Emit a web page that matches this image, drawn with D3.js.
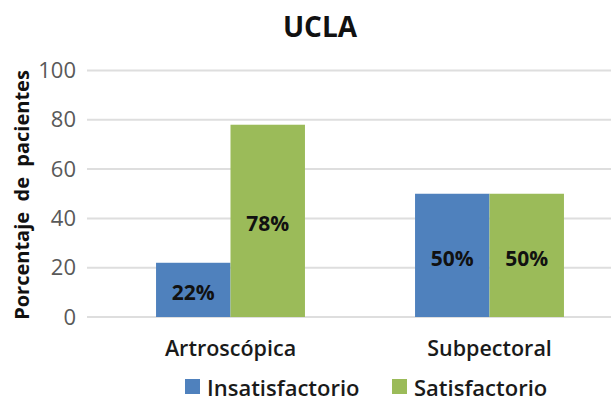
<!DOCTYPE html>
<html>
<head>
<meta charset="utf-8">
<script src="https://cdn.jsdelivr.net/npm/d3@7"></script>
<style>
  body { margin: 0; background: #fff; }
  svg { display: block; font-family: "Open Sans", sans-serif; }
</style>
</head>
<body>
<div id="chart"></div>
<script>
"use strict";

let categories = ["Artroscópica", "Subpectoral"];
let seriesNames = ["Insatisfactorio", "Satisfactorio"];
let insatisfactorio = [22, 50];
let satisfactorio = [78, 50];
let yTicks = [0, 20, 40, 60, 80, 100];

let colors = ["#4f81bd", "#9bbb59"];
let width = 611, height = 401;

let svg = d3.select("#chart").append("svg")
  .attr("width", width)
  .attr("height", height);

let y = d3.scaleLinear()
  .domain([0, 100])
  .range([317, 70.5]);

// groups of bars
let x0 = d3.scaleBand()
  .domain(categories)
  .range([101, 619])
  .paddingInner(0.425)
  .paddingOuter(0.2125);

let x1 = d3.scaleBand()
  .domain(seriesNames)
  .range([0, x0.bandwidth()]);

// gridlines
svg.append("g")
  .selectAll("line")
  .data(yTicks)
  .enter().append("line")
  .attr("x1", 87)
  .attr("x2", 611)
  .attr("y1", d => y(d))
  .attr("y2", d => y(d))
  .attr("stroke", "#dedede")
  .attr("stroke-width", 2);

// y axis labels
let yAxis = d3.axisLeft(y).tickValues(yTicks).tickSize(0).tickPadding(0);
let yG = svg.append("g")
  .attr("transform", "translate(76,0)")
  .call(yAxis);
yG.select(".domain").remove();
yG.selectAll("text")
  .attr("fill", "#595959")
  .style("font-size", "22px")
  .style("font-family", "Open Sans, sans-serif");

// bars
let rows = categories.map((c, i) => ({
  cat: c,
  values: [
    { name: seriesNames[0], value: insatisfactorio[i], color: colors[0] },
    { name: seriesNames[1], value: satisfactorio[i], color: colors[1] }
  ]
}));

let groups = svg.append("g")
  .selectAll(".group")
  .data(rows)
  .enter().append("g")
  .attr("class", "group")
  .attr("transform", d => "translate(" + x0(d.cat) + ",0)");

groups.selectAll("rect")
  .data(d => d.values)
  .enter().append("rect")
  .attr("x", d => x1(d.name))
  .attr("width", x1.bandwidth())
  .attr("y", d => y(d.value))
  .attr("height", d => y(0) - y(d.value))
  .attr("fill", d => d.color);

groups.selectAll(".lbl")
  .data(d => d.values)
  .enter().append("text")
  .attr("class", "lbl")
  .attr("x", d => x1(d.name) + x1.bandwidth() / 2)
  .attr("y", d => (y(d.value) + y(0)) / 2 + 3)
  .attr("dy", "0.35em")
  .attr("text-anchor", "middle")
  .style("font-size", "21px")
  .style("font-weight", "bold")
  .attr("fill", "#111")
  .text(d => d.value + "%");

// x axis labels
let xAxis = d3.axisBottom(x0).tickSize(0).tickPadding(0);
let xG = svg.append("g")
  .attr("transform", "translate(0,341)")
  .call(xAxis);
xG.select(".domain").remove();
xG.selectAll("text")
  .attr("fill", "#1a1a1a")
  .style("font-size", "21.5px")
  .style("font-weight", "600")
  .style("font-family", "Open Sans, sans-serif");

// title
svg.append("text")
  .attr("x", 320)
  .attr("y", 37)
  .attr("text-anchor", "middle")
  .style("font-size", "28px")
  .style("font-weight", "bold")
  .attr("fill", "#111")
  .text("UCLA");

// y axis title
svg.append("text")
  .attr("transform", "translate(29,195) rotate(-90)")
  .attr("text-anchor", "middle")
  .style("font-size", "20px")
  .style("font-weight", "bold")
  .attr("fill", "#111")
  .style("white-space", "pre")
  .text("Porcentaje  de  pacientes");

// legend
let legendX = [185, 392];
let legend = svg.append("g")
  .selectAll(".leg")
  .data(seriesNames)
  .enter().append("g")
  .attr("class", "leg")
  .attr("transform", (d, i) => "translate(" + legendX[i] + ",379)");

legend.append("rect")
  .attr("width", 15)
  .attr("height", 15)
  .attr("fill", (d, i) => colors[i]);

legend.append("text")
  .attr("x", 22)
  .attr("y", 17)
  .style("font-size", "22px")
  .style("font-weight", "600")
  .attr("fill", "#1a1a1a")
  .text(d => d);
</script>
</body>
</html>
